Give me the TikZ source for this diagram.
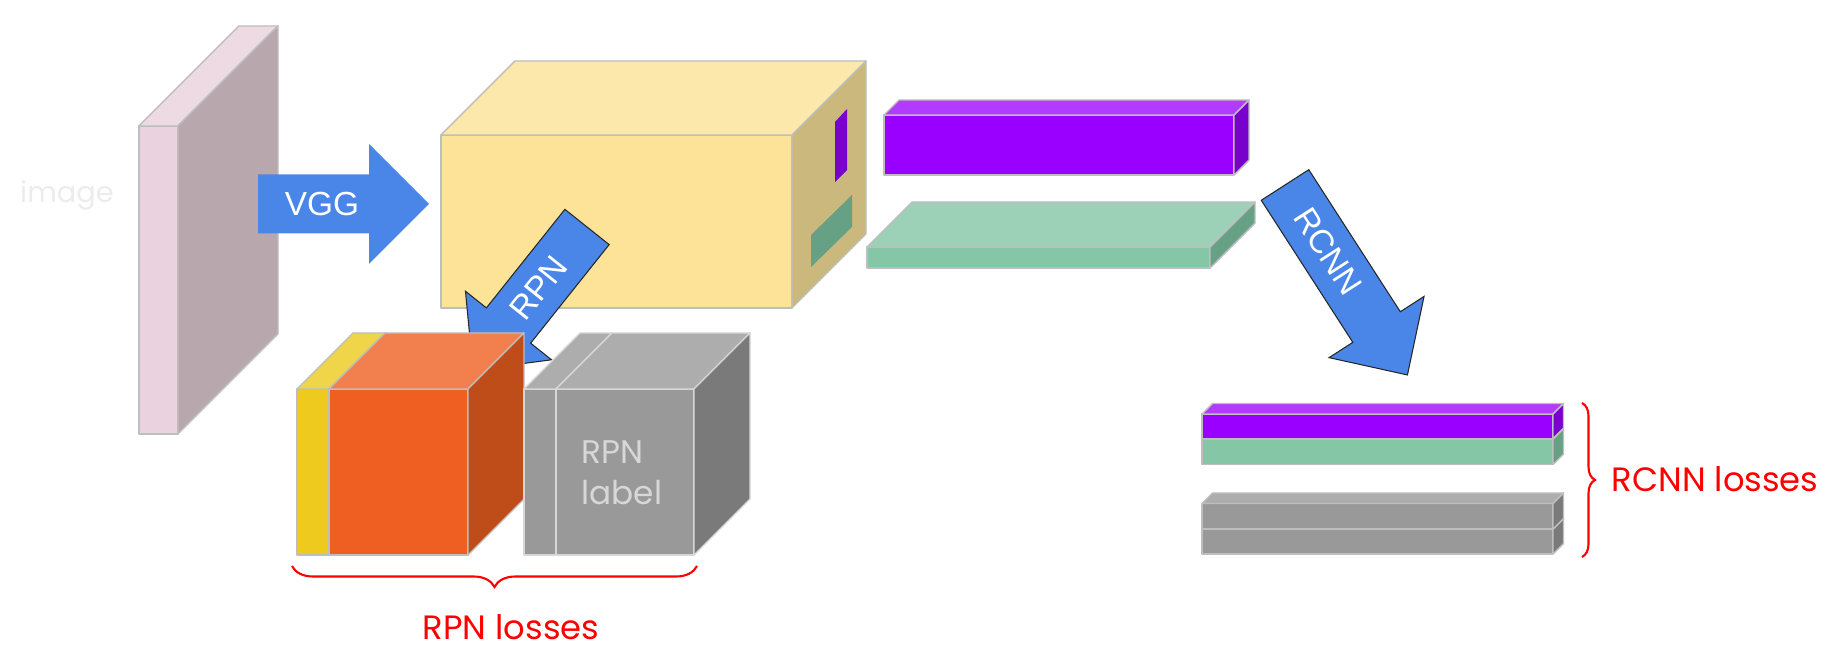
\documentclass[tikz,border=0pt]{standalone}
\usepackage{fontspec}
\setmainfont{Liberation Sans}
\newfontfamily\handfont{Poppins}
\usetikzlibrary{decorations.pathreplacing}
\definecolor{ArrowBlue}{RGB}{74,134,232}
\definecolor{EdgeGray}{RGB}{190,190,190}
\definecolor{EdgeLight}{RGB}{215,215,215}
\definecolor{PinkFront}{RGB}{234,211,222}
\definecolor{PinkTop}{RGB}{237,218,226}
\definecolor{PinkSide}{RGB}{185,167,174}
\definecolor{SandFront}{RGB}{253,227,152}
\definecolor{SandTop}{RGB}{253,232,172}
\definecolor{SandSide}{RGB}{203,184,124}
\definecolor{LemonFront}{RGB}{238,202,30}
\definecolor{LemonTop}{RGB}{240,213,74}
\definecolor{RustFront}{RGB}{239,95,34}
\definecolor{RustTop}{RGB}{242,128,79}
\definecolor{RustSide}{RGB}{190,77,26}
\definecolor{AshFront}{RGB}{153,153,153}
\definecolor{AshTop}{RGB}{173,173,173}
\definecolor{AshSide}{RGB}{122,122,122}
\definecolor{VioFront}{RGB}{153,0,255}
\definecolor{VioTop}{RGB}{177,59,255}
\definecolor{VioSide}{RGB}{122,0,204}
\definecolor{MintFront}{RGB}{132,198,166}
\definecolor{MintTop}{RGB}{157,209,183}
\definecolor{MintSide}{RGB}{102,160,133}
\definecolor{Faint}{RGB}{236,236,236}
\newcommand{\Cuboid}[8]{% x y width height depth front top side
\filldraw[box,fill=#6] (#1,#2) rectangle ++(#3,#4);
\filldraw[box,fill=#7] (#1,#2) -- ++(#5,-#5) -- ++(#3,0) -- ++(-#5,#5) -- cycle;
\filldraw[box,fill=#8] ({#1+#3},#2) -- ++(#5,-#5) -- ++(0,#4) -- ++(-#5,#5) -- cycle;
}
\newcommand{\BlockArrow}[9]{% name tail angle length shaft head headlength labelpos style
\begin{scope}[shift={(#2)},rotate=#3]
\filldraw[blockarrow,#9] (0,{-#5/2}) -- ({#4-#7},{-#5/2}) -- ({#4-#7},{-#6/2}) -- (#4,0)
  -- ({#4-#7},{#6/2}) -- ({#4-#7},{#5/2}) -- (0,{#5/2}) -- cycle;
\coordinate (#1) at (#8,0);
\end{scope}
}
\tikzset{
  box/.style={draw=EdgeGray,line width=0.4pt,line join=round},
  blockarrow/.style={fill=ArrowBlue,draw=none},
  arrowtext/.style={text=white,font=\fontsize{9.5}{11}\selectfont,inner sep=0pt},
  handtext/.style={font=\handfont\fontsize{9.6}{11.7}\selectfont,inner sep=0pt},
  lossbrace/.style={draw=red,line width=0.6pt,decorate},
}

\begin{document}
\begin{tikzpicture}[x=0.01cm,y=-0.01cm]
\useasboundingbox (0,0) rectangle (1837,671);
% input image
\node[handtext,text=Faint,anchor=base,font=\handfont\fontsize{8.2}{10}\selectfont] (imagetxt) at (67,203) {image};
\Cuboid{139}{126}{39}{308}{100}{PinkFront}{PinkTop}{PinkSide}
\BlockArrow{vggmid}{258,204}{0}{171}{59}{120}{60}{64}{}
\node[arrowtext] (vgg) at (vggmid) {VGG};
% feature map
\Cuboid{441}{135}{351}{173}{74}{SandFront}{SandTop}{SandSide}
\filldraw[box,draw=none,fill=VioSide] (835,122) -- (847,109) -- (847,170) -- (835,182) -- cycle;
\filldraw[box,draw=none,fill=MintSide] (811,235) -- (852,195) -- (852,227) -- (811,267) -- cycle;
\BlockArrow{rpnmid}{587,227}{231.45}{183}{56.6}{110}{57}{78}{draw=black!85,line width=0.3pt}
\node[arrowtext,rotate=51.45] (rpn) at (rpnmid) {RPN};
% rpn outputs and labels
\Cuboid{297}{389}{32}{166}{56}{LemonFront}{LemonTop}{LemonFront}
\Cuboid{329}{389}{139}{166}{56}{RustFront}{RustTop}{RustSide}
\begin{scope}[box/.append style={draw=EdgeLight}]
\Cuboid{524}{389}{32}{166}{56}{AshFront}{AshTop}{AshFront}
\Cuboid{556}{389}{138}{166}{56}{AshFront}{AshTop}{AshSide}
\end{scope}
\node[handtext,text=EdgeLight,align=left,anchor=north west,font=\handfont\fontsize{9.3}{11.7}\selectfont] (rpnlabel) at (581,440) {RPN\\label};
% rcnn head
\Cuboid{884}{115}{350}{60}{15}{VioFront}{VioTop}{VioSide}
\Cuboid{867}{247}{343}{21}{45}{MintFront}{MintTop}{MintSide}
\BlockArrow{rcnnmid}{1285,185}{-57.2}{226}{56.5}{113}{57}{79}{draw=black!85,line width=0.3pt}
\node[arrowtext,rotate=-57.2] (rcnn) at (rcnnmid) {RCNN};
% rcnn outputs
\Cuboid{1202}{439}{351}{25.5}{10.5}{MintFront}{MintTop}{MintSide}
\Cuboid{1202}{414}{351}{24.5}{10.5}{VioFront}{VioTop}{VioSide}
\Cuboid{1202}{529}{351}{25}{10.5}{AshFront}{AshTop}{AshSide}
\Cuboid{1202}{503.5}{351}{25.5}{10.5}{AshFront}{AshTop}{AshSide}
% losses
\coordinate (rpnbraceR) at (697,566);
\coordinate (rpnbraceL) at (292,566);
\draw[lossbrace,decoration={brace,amplitude=0.21cm}] (rpnbraceR) -- (rpnbraceL);
\node[handtext,text=red,anchor=base] (rpnloss) at (511,640) {RPN losses};
\coordinate (rcnnbraceT) at (1582,403);
\coordinate (rcnnbraceB) at (1582,557);
\draw[lossbrace,decoration={brace,amplitude=0.13cm}] (rcnnbraceT) -- (rcnnbraceB);
\node[handtext,text=red,anchor=base west] (rcnnloss) at (1611,492) {RCNN losses};
\end{tikzpicture}
\end{document}
